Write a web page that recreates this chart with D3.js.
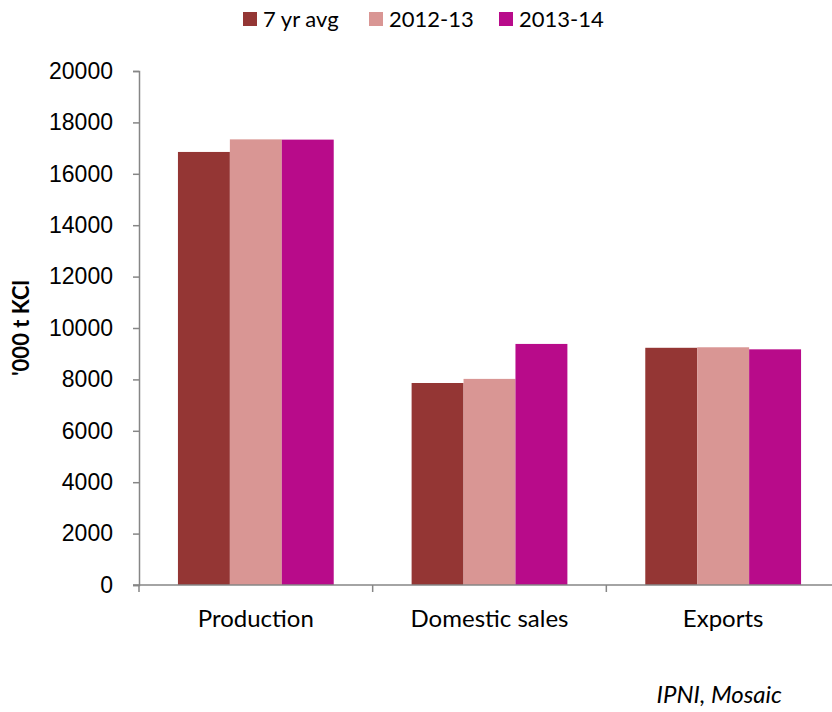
<!DOCTYPE html>
<html>
<head>
<meta charset="utf-8">
<script src="https://cdn.jsdelivr.net/npm/d3@7"></script>
<style>
  body { margin: 0; background: #fff; }
  svg { display: block; font-family: Lato, "Open Sans", sans-serif; }
</style>
</head>
<body>
<script>
// data
var categories = ["Production", "Domestic sales", "Exports"];
var seriesNames = ["7 yr avg", "2012-13", "2013-14"];
var avg7yr = [16850, 7860, 9230];
var y2012 = [17340, 8020, 9250];
var y2013 = [17330, 9380, 9170];
var yTicks = [0, 2000, 4000, 6000, 8000, 10000, 12000, 14000, 16000, 18000, 20000];
var colors = ["#943634", "#d99694", "#b80b8a"];

var width = 832, height = 712;
var margin = {left: 139, top: 71, right: -8, bottom: 127};

var svg = d3.select("body").append("svg")
  .attr("width", width)
  .attr("height", height);

var series = [avg7yr, y2012, y2013];
var rows = categories.map(function(c, i) {
  return {cat: c, vals: series.map(function(s, j) { return {key: seriesNames[j], value: s[i]}; })};
});

var x0 = d3.scaleBand()
  .domain(categories)
  .range([margin.left, width - margin.right])
  .paddingInner(0)
  .paddingOuter(0);

// gap width 50%: outer padding = 0.75 of a bar on each side
var x1 = d3.scaleBand()
  .domain(seriesNames)
  .range([0, x0.bandwidth()])
  .paddingOuter(0.75)
  .paddingInner(0);

var y = d3.scaleLinear()
  .domain([0, 20000])
  .range([height - margin.bottom, margin.top]);

// bars
svg.append("g").selectAll("g")
  .data(rows)
  .join("g")
    .attr("transform", function(d) { return "translate(" + x0(d.cat) + ",0)"; })
  .selectAll("rect")
  .data(function(d) { return d.vals; })
  .join("rect")
    .attr("x", function(d) { return x1(d.key); })
    .attr("y", function(d) { return y(d.value); })
    .attr("width", x1.bandwidth())
    .attr("height", function(d) { return y(0) - y(d.value); })
    .attr("fill", function(d, i) { return colors[i]; });

// y axis
var yAxis = svg.append("g")
  .attr("transform", "translate(" + margin.left + ",0)")
  .call(d3.axisLeft(y).tickValues(yTicks).tickSize(6).tickPadding(20).tickFormat(d3.format("d")));
yAxis.selectAll("text").attr("font-size", 23).attr("fill", "#000");
yAxis.select(".domain").attr("stroke", "#868686").attr("stroke-width", 1.5);
yAxis.selectAll(".tick line").attr("stroke", "#868686").attr("stroke-width", 1.5);

// x axis
var xAxis = svg.append("g")
  .attr("transform", "translate(0," + y(0) + ")");
xAxis.append("line")
  .attr("x1", margin.left - 6).attr("x2", width)
  .attr("stroke", "#868686").attr("stroke-width", 1.5);
xAxis.selectAll(".tk")
  .data(categories.map(function(c) { return x0(c); }))
  .join("line")
    .attr("class", "tk")
    .attr("x1", function(d) { return d; }).attr("x2", function(d) { return d; })
    .attr("y1", 0).attr("y2", 7)
    .attr("stroke", "#868686").attr("stroke-width", 1.5);
xAxis.selectAll("text")
  .data(categories)
  .join("text")
    .attr("x", function(d) { return x0(d) + x0.bandwidth() / 2; })
    .attr("y", 42)
    .attr("text-anchor", "middle")
    .attr("font-size", 24)
    .text(function(d) { return d; });

// y title
svg.append("text")
  .attr("transform", "translate(29," + ((y(0) + y(20000)) / 2) + ") rotate(-90)")
  .attr("text-anchor", "middle")
  .attr("font-size", 22)
  .attr("font-weight", "bold")
  .text("'000 t KCl");

// legend
var legendX = [243, 369, 499];
var legend = svg.append("g").selectAll("g")
  .data(seriesNames)
  .join("g")
    .attr("transform", function(d, i) { return "translate(" + legendX[i] + ",12)"; });
legend.append("rect")
  .attr("width", 14).attr("height", 14)
  .attr("fill", function(d, i) { return colors[i]; });
legend.append("text")
  .attr("x", 20).attr("y", 15)
  .attr("font-size", 22)
  .text(function(d) { return d; });

// source
svg.append("text")
  .attr("x", 782).attr("y", 703)
  .attr("text-anchor", "end")
  .attr("font-size", 24)
  .attr("font-style", "italic")
  .text("IPNI, Mosaic");
</script>
</body>
</html>
